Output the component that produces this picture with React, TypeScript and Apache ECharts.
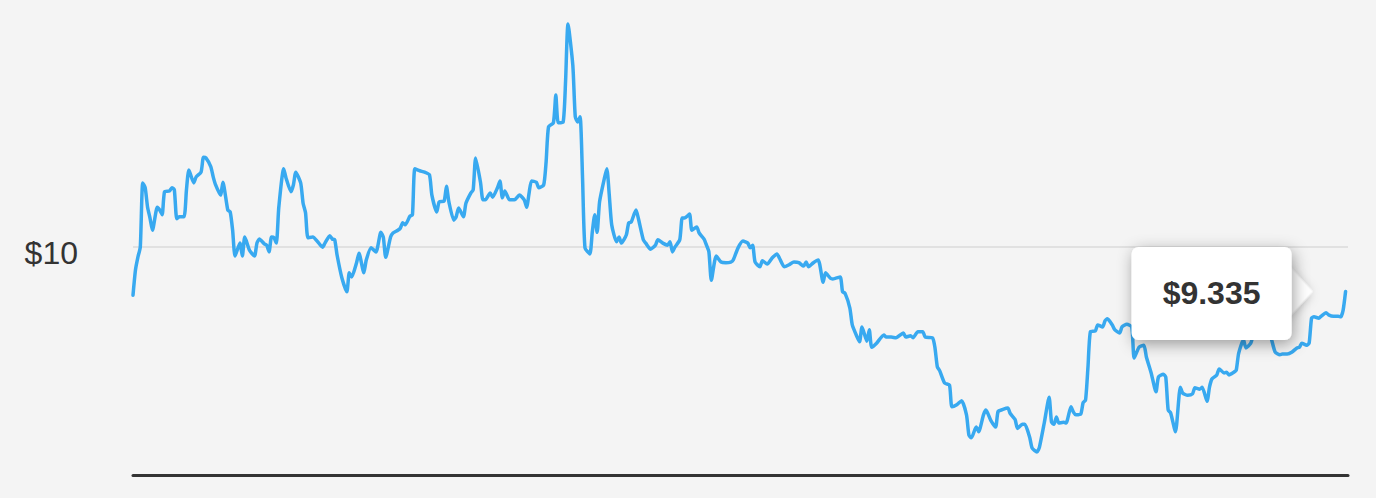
import React, { useEffect, useRef } from "react";
import * as echarts from "echarts";

// Trading session index (x) and closing price in dollars (y)
const sessions = [
  0, 1, 2, 3, 4, 5, 6, 7, 8, 10, 11, 12, 13, 15, 16, 17, 18, 19, 21, 22, 23, 25, 26, 28, 29, 30, 32, 33, 34, 36, 37, 39, 40, 41, 42, 44, 45, 46, 48, 50,
  51, 52, 54, 55, 56, 57, 58, 59, 60, 62, 63, 65, 66, 67, 69, 70, 71, 72, 74, 76, 78, 79, 81, 82, 83, 84, 86, 88, 89, 90, 92, 93, 95, 96, 98, 100,
  102, 103, 104, 106, 107, 109, 110, 111, 112, 114, 115, 116, 118, 120, 122, 123, 125, 126, 128, 129, 130, 132, 133, 134, 136, 137, 139, 140, 141,
  143, 144, 145, 147, 148, 150, 151, 152, 153, 155, 157, 159, 161, 162, 163, 164, 166, 167, 169, 170, 171, 173, 174, 175, 177, 178, 179, 181, 182,
  183, 184, 185, 186, 188, 189, 190, 191, 192, 194, 195, 196, 197, 199, 200, 201, 203, 204, 205, 207, 208, 210, 211, 213, 215, 216, 218, 220, 221,
  222, 223, 225, 226, 227, 229, 230, 232, 233, 235, 236, 237, 238, 240, 242, 244, 246, 247, 249, 251, 253, 254, 255, 256, 258, 259, 261, 263, 265,
  266, 268, 270, 272, 274, 276, 277, 278, 280, 282, 284, 285, 287, 288, 291, 292, 293, 295, 296, 298, 299, 300, 302, 303, 304, 306, 309, 310, 312,
  314, 317, 318, 320, 321, 323, 325, 326, 329, 330, 331, 332, 334, 336, 337, 339, 341, 343, 344, 345, 347, 348, 350, 351, 353, 355, 356, 358, 360,
  361, 363, 364, 366, 367, 369, 370, 372, 373, 375, 377, 378, 379, 380, 381, 383, 384, 386, 387, 388, 390, 391, 392, 393, 394, 396, 397, 399, 400,
  401, 403, 404, 406, 407, 409, 411, 412, 414, 416, 417, 419, 421, 422, 424, 425, 426, 427, 429, 431, 432, 434, 436, 437, 439, 440, 442, 443, 444,
  446, 447, 449, 450, 451, 453, 454, 455, 457, 458, 460, 461, 463, 465, 466, 468, 470, 472, 473, 475, 477, 479, 480, 481, 483, 484, 485, 486, 488,
  489, 491, 492, 494, 496, 497, 498, 499,
];

const prices = [
  9.28, 9.65, 9.84, 9.99, 10.94, 10.87, 10.58, 10.42, 10.24, 10.58, 10.54, 10.47, 10.81, 10.82, 10.87, 10.84, 10.41, 10.44, 10.44, 10.84, 11.13,
  10.94, 11.03, 11.1, 11.32, 11.31, 11.18, 11.03, 10.91, 10.76, 10.95, 10.54, 10.51, 10.24, 9.86, 10.05, 9.86, 10.14, 9.94, 9.86,
  10.05, 10.11, 10.04, 10.02, 9.92, 10.14, 10.13, 10.05, 10.58, 11.15, 11.01, 10.81, 10.91, 11.1, 10.94, 10.64, 10.5, 10.13, 10.14, 10.07, 9.99,
  10.05, 10.16, 10.11, 10.1, 9.87, 9.53, 9.33, 9.61, 9.55, 9.76, 9.9, 9.61, 9.8, 9.98, 9.92,
  10.21, 10.14, 9.84, 10.14, 10.2, 10.24, 10.27, 10.35, 10.32, 10.45, 10.47, 11.15, 11.12, 11.1, 11.06, 10.76, 10.51, 10.66, 10.67, 10.89, 10.66,
  10.39, 10.44, 10.57, 10.44, 10.64, 10.79, 10.84, 11.31,
  10.95, 10.69, 10.69, 10.79, 10.73, 10.87, 10.97, 10.72, 10.82, 10.69, 10.69, 10.76, 10.69, 10.58, 10.79, 10.97, 10.95, 10.87, 10.91, 11.25,
  11.77, 11.83, 12.24, 11.83, 11.84, 12.43, 13.29, 12.68, 11.92,
  11.84, 11.92, 11.01, 9.98, 9.89, 10.21, 10.47, 10.21, 10.66, 11.01, 11.15, 10.76, 10.32, 10.07, 10.14, 10.05, 10.17, 10.35, 10.36, 10.54, 10.41,
  10.1, 10.05, 9.96, 10.02, 10.1, 10.05, 10.02, 10.07,
  9.92, 9.99, 10.1, 10.42, 10.42, 10.48, 10.24, 10.29, 10.2, 10.11, 10.02, 9.92, 9.5, 9.86, 9.77, 9.76, 9.77, 9.8, 9.98, 10.08, 10.05, 9.98, 10.02,
  9.77, 9.7, 9.79, 9.74, 9.83, 9.89,
  9.83, 9.7, 9.73, 9.77, 9.76, 9.71, 9.77, 9.7, 9.76, 9.8, 9.47, 9.61, 9.53, 9.52, 9.55, 9.33, 9.31, 9.09, 8.84, 8.66, 8.59, 8.81, 8.6, 8.77, 8.51,
  8.57, 8.69, 8.66, 8.66,
  8.65, 8.72, 8.66, 8.68, 8.65, 8.74, 8.74, 8.66, 8.65, 8.51, 8.22, 8.16, 7.98, 7.95, 7.63, 7.66, 7.72, 7.51, 7.21, 7.17, 7.33, 7.26, 7.51, 7.58,
  7.43, 7.33, 7.56, 7.59, 7.61,
  7.53, 7.44, 7.31, 7.37, 7.37, 7.18, 7.02, 6.96, 7.03, 7.39, 7.77, 7.4, 7.37, 7.48, 7.39, 7.4, 7.39, 7.63, 7.55, 7.51, 7.52, 7.69, 7.73, 8.22,
  8.74, 8.75, 8.84, 8.81, 8.9,
  8.93, 8.84, 8.77, 8.72, 8.81, 8.85, 8.81, 8.35, 8.51, 8.54, 8.37, 8.13, 7.85, 8.07, 8.11, 8.07, 7.58, 7.54, 7.26, 7.92, 7.83, 7.8, 7.82, 7.91,
  7.89, 7.92, 7.71, 7.92, 8.04,
  8.1, 8.19, 8.13, 8.14, 8.1, 8.14, 8.17, 8.42, 8.62, 8.5, 8.57, 8.69, 8.77, 8.74, 8.8, 8.69, 8.44, 8.4, 8.41, 8.41, 8.44, 8.5, 8.51, 8.57, 8.54,
  8.57, 8.94, 8.96, 8.94,
  8.97, 9.02, 8.99, 8.97, 8.97, 8.96, 9.06, 9.335,
];

const referencePrice = 10;
const priceRange = [6.65, 13.35];
const sessionRange = [0, 500];

const LINE_COLOR = "#38a9f0";
const TEXT_COLOR = "#333333";
const FONT = "'Liberation Sans', Arial, Helvetica, sans-serif";

export default function App() {
  const ref = useRef<HTMLDivElement>(null);

  useEffect(() => {
    if (!ref.current) return;
    const chart = echarts.init(ref.current, null, { renderer: "svg" });
    const data = sessions.map((s, i) => [s, prices[i]]);
    const last = data[data.length - 1];

    chart.setOption({
      animation: false,
      backgroundColor: "#f4f4f4",
      grid: { left: 133, right: 28, top: 20, bottom: 25, containLabel: false },
      xAxis: {
        type: "value",
        min: sessionRange[0],
        max: sessionRange[1],
        offset: 2,
        axisLine: { show: true, onZero: false, lineStyle: { color: "#333333", width: 3 } },
        axisTick: { show: false },
        axisLabel: { show: false },
        splitLine: { show: false },
      },
      yAxis: {
        type: "value",
        min: priceRange[0],
        max: priceRange[1],
        axisLine: { show: false },
        axisTick: { show: false },
        axisLabel: { show: false },
        splitLine: { show: false },
      },
      series: [
        {
          type: "line",
          data,
          z: 2,
          symbol: "none",
          showSymbol: false,
          smooth: 0.2,
          lineStyle: { color: LINE_COLOR, width: 3.5, join: "round", cap: "round" },
          markLine: {
            silent: true,
            z: 1,
            symbol: ["none", "none"],
            lineStyle: { color: "#e1e1e1", width: 2, type: "solid" },
            label: {
              show: true,
              position: "start",
              distance: 55,
              formatter: "$" + referencePrice,
              fontSize: 32,
              color: TEXT_COLOR,
              fontFamily: FONT,
              verticalAlign: "top",
              lineHeight: 13,
            },
            emphasis: { disabled: true },
            data: [{ yAxis: referencePrice }],
          },
          markPoint: {
            silent: true,
            z: 10,
            data: [
              {
                coord: last,
                symbol: "triangle",
                symbolSize: [48, 22],
                symbolRotate: -90,
                symbolOffset: [-44, 0],
                itemStyle: {
                  color: "#ffffff",
                  shadowBlur: 12,
                  shadowColor: "rgba(0,0,0,0.35)",
                  shadowOffsetX: 2,
                  shadowOffsetY: 3,
                },
                label: { show: false },
              },
              {
                coord: last,
                symbol: "circle",
                symbolSize: 1,
                itemStyle: { color: "rgba(0,0,0,0)" },
                label: {
                  show: true,
                  position: "inside",
                  offset: [-134, 2],
                  formatter: "$" + (last[1] as number).toFixed(3),
                  fontSize: 32,
                  fontWeight: "bold",
                  fontFamily: FONT,
                  color: TEXT_COLOR,
                  width: 160,
                  align: "center",
                  lineHeight: 33,
                  padding: [32, 0, 28, 0],
                  backgroundColor: "#ffffff",
                  borderRadius: 7,
                  shadowBlur: 16,
                  shadowColor: "rgba(0,0,0,0.38)",
                  shadowOffsetX: 2,
                  shadowOffsetY: 4,
                },
              },
            ],
          },
        },
      ],
    });

    return () => chart.dispose();
  }, []);

  return (
    <div style={{ position: "fixed", left: 0, top: 0, width: 1376, height: 498, background: "#f4f4f4" }}>
      <div ref={ref} style={{ width: 1376, height: 498 }} />
    </div>
  );
}
